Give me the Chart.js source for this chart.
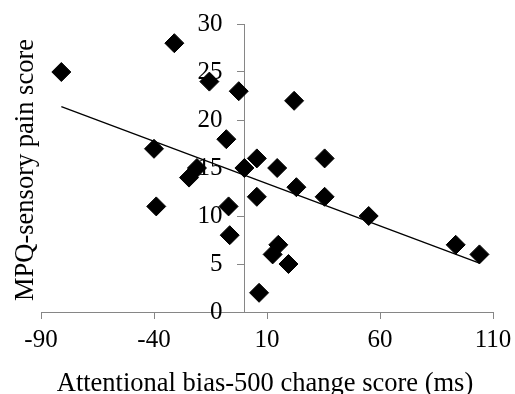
<!DOCTYPE html>
<html>
<head>
<meta charset="utf-8">
<script src="https://cdn.jsdelivr.net/npm/chart.js@4/dist/chart.umd.min.js"></script>
<style>
  html, body { margin: 0; padding: 0; background: #fff; }
  #wrap { width: 515px; height: 394px; }
</style>
</head>
<body>
<div id="wrap"><canvas id="c" width="515" height="394"></canvas></div>
<script>
// Attentional bias change (ms) vs. MPQ sensory pain score, one diamond per participant
const biasChange = [-81, -31, -15.5, -2.5, -40, -8, 22, 5.5, 0, 14.5, 35.5, 23, 35.5, 5.5,
                    -7, 55, -6.5, 15, 12.5, 19.5, 6.5, 93.5, 104, -39, -24.5, -21];
const painScore  = [25, 28, 24, 23, 17, 18, 22, 16, 15, 15, 16, 13, 12, 12,
                    11, 10, 8, 7, 6, 5, 2, 7, 6, 11, 14, 15];

// Linear trend line end points
const trendX = [-81, 104];
const trendY = [21.4, 5.1];

const xTicks = [-90, -40, 10, 60, 110];
const yTicks = [0, 5, 10, 15, 20, 25, 30];

const xTitle = 'Attentional bias-500 change score (ms)';
const yTitle = 'MPQ-sensory pain score';

const FONT = "'Times New Roman', 'Liberation Serif', serif";
const AXIS = '#868686';
const Y_LABEL_GAP = 22;   // space between the y tick labels and the crossing axis

const points = biasChange.map((x, i) => ({ x, y: painScore[i] }));
const trend = trendX.map((x, i) => ({ x, y: trendY[i] }));

// The y axis crosses at x = 0; move its labels clear of the tick marks
const yLabelShift = {
  id: 'yLabelShift',
  beforeDraw(chart) {
    const s = chart.scales.y;
    const items = s.getLabelItems(chart.chartArea);
    if (!items._shifted) {
      items.forEach(it => { it.options.translation[0] -= Y_LABEL_GAP; });
      items._shifted = true;
    }
  }
};

const axisTitles = {
  id: 'axisTitles',
  afterDraw(chart) {
    const ctx = chart.ctx;
    ctx.save();
    ctx.fillStyle = '#000';
    ctx.textAlign = 'center';
    ctx.textBaseline = 'alphabetic';
    ctx.font = '26.5px ' + FONT;
    ctx.fillText(xTitle, 265, 391);
    ctx.translate(33, 170);
    ctx.rotate(-Math.PI / 2);
    ctx.fillText(yTitle, 0, 0);
    ctx.restore();
  }
};

new Chart(document.getElementById('c'), {
  type: 'scatter',
  data: {
    datasets: [
      {
        data: points,
        pointStyle: 'rectRot',
        pointRadius: 9.5,
        pointHoverRadius: 9.5,
        backgroundColor: '#000',
        borderColor: '#000',
        borderWidth: 1,
        order: 1
      },
      {
        type: 'line',
        data: trend,
        borderColor: '#000',
        borderWidth: 1.3,
        pointRadius: 0,
        fill: false,
        order: 2
      }
    ]
  },
  options: {
    responsive: false,
    animation: false,
    events: [],
    layout: { padding: { left: 41, right: 22, top: 24, bottom: 0 } },
    plugins: { legend: { display: false }, tooltip: { enabled: false } },
    scales: {
      x: {
        type: 'linear',
        position: 'bottom',
        min: -90, max: 110,
        afterBuildTicks: (s) => { s.ticks = xTicks.map(v => ({ value: v })); },
        afterFit: (s) => { s.height = 82; s.paddingLeft = 0; s.paddingRight = 0; },
        grid: { drawOnChartArea: false, drawTicks: true, tickLength: 7, color: AXIS },
        border: { color: AXIS, width: 1 },
        ticks: { color: '#000', padding: 6, font: { family: FONT, size: 25 } }
      },
      y: {
        type: 'linear',
        position: { x: 0 },
        min: 0, max: 30,
        afterBuildTicks: (s) => { s.ticks = yTicks.map(v => ({ value: v })); },
        afterFit: (s) => { s.paddingTop = 0; s.paddingBottom = 0; },
        grid: { drawOnChartArea: false, drawTicks: true, tickLength: 7, color: AXIS },
        border: { color: AXIS, width: 1 },
        ticks: { color: '#000', padding: 0, font: { family: FONT, size: 25 } }
      }
    }
  },
  plugins: [yLabelShift, axisTitles]
});
</script>
</body>
</html>
